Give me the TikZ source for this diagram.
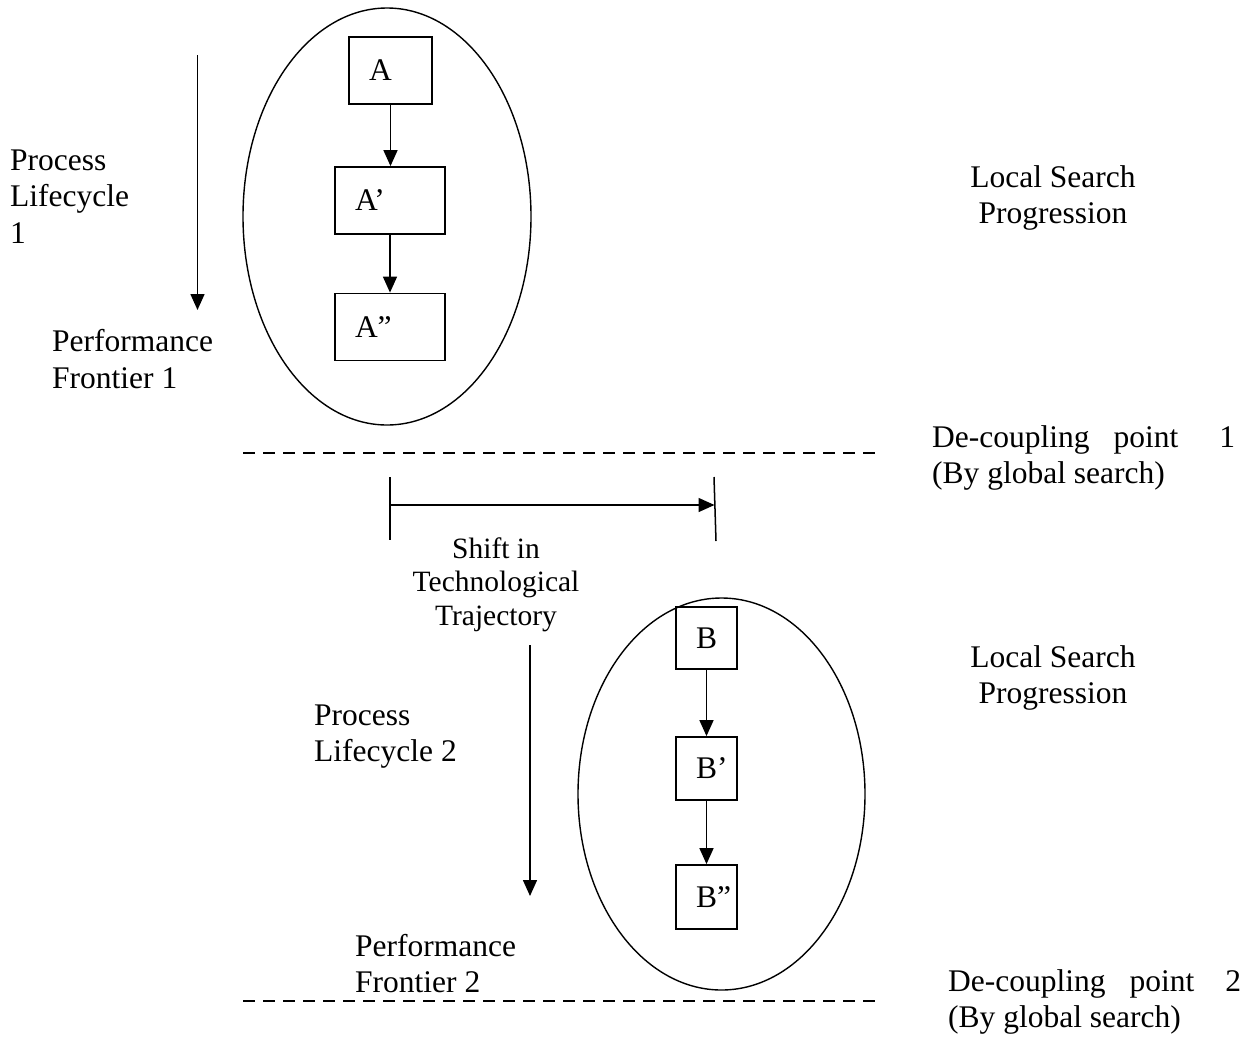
\documentclass[tikz,border=0pt]{standalone}
\usepackage{fontspec}
\setmainfont{Liberation Serif}
\usetikzlibrary{arrows.meta,shapes.geometric}
\newcommand\lblock[1]{\begin{tabular}[t]{@{}l@{}}#1\end{tabular}}
\newcommand\cblock[1]{\begin{tabular}[t]{@{}c@{}}#1\end{tabular}}
\begin{document}
\begin{tikzpicture}[x=1pt,y=-1pt,
  ln/.style={line width=1.5pt},
  arr/.style={ln,-{Triangle[length=16pt,width=14pt]}},
  oval/.style={draw,ellipse,line width=1.4pt,inner sep=0pt},
  bx/.style={draw,line width=1.8pt,inner xsep=20pt,inner ysep=0pt,align=left,font=\fontsize{31.5}{36.5}\selectfont},
  dline/.style={line width=1.6pt,dash pattern=on 12pt off 8pt},
  txt/.style={inner sep=0pt,font=\fontsize{31.5}{36.5}\selectfont},
  stxt/.style={inner sep=0pt,font=\fontsize{29.5}{33.5}\selectfont}]
\useasboundingbox (0,0) rectangle (1245,1061);
\fill[white] (0,0) rectangle (1245,1061);

% ---------- upper part ----------
\node[oval,minimum width=288pt,minimum height=417pt] (E1) at (387,216.5) {};
\node[bx,text width=43pt,minimum height=67pt] (A) at (390.5,70.5) {A};
\node[bx,text width=70pt,minimum height=67pt] (A1) at (390,200.5) {A’};
\node[bx,text width=70pt,minimum height=67pt] (A2) at (390,327) {A”};
\draw[arr] (A.south) -- (A.south |- A1.north);
\draw[arr] (A1.south) -- (A1.south |- A2.north);

\coordinate (p1s) at (197.5,55);
\coordinate (p1e) at (197.5,310);
\draw[arr] (p1s) -- (p1e);

\node[txt,anchor=base west] (pl1) at (10,170) {\lblock{Process\\Lifecycle\\1}};
\node[txt,anchor=base west] (pf1) at (52,351.7) {\lblock{Performance\\Frontier 1}};
\node[txt,anchor=base] (ls1) at (1053,187) {\cblock{Local Search\\Progression}};

\coordinate (d1a) at (243,453);
\coordinate (d1b) at (880,453);
\draw[dline] (d1a) -- (d1b);
\node[txt,anchor=base west] (dc1) at (932,447) {\lblock{De-coupling\hspace{24pt}point\hspace{41pt}1\\(By global search)}};

% ---------- shift ----------
\coordinate (t1a) at (390,477);
\coordinate (t1b) at (390,540);
\coordinate (t2a) at (714,477);
\coordinate (t2b) at (716,541);
\coordinate (s1) at (390,505);
\coordinate (s2) at (714.5,505);
\draw[ln] (t1a) -- (t1b);
\draw[ln] (t2a) -- (t2b);
\draw[arr] (s1) -- (s2);
\node[stxt,anchor=base] (sh) at (496,558) {\cblock{Shift in\\Technological\\Trajectory}};

% ---------- lower part ----------
\coordinate (p2s) at (530,645);
\coordinate (p2e) at (530,896);
\draw[arr] (p2s) -- (p2e);
\node[txt,anchor=base west] (pl2) at (314,725) {\lblock{Process\\Lifecycle 2}};
\node[txt,anchor=base west] (pf2) at (355,956) {\lblock{Performance\\Frontier 2}};

\node[oval,minimum width=287pt,minimum height=392pt] (E2) at (721.5,794) {};
\node[bx,text width=21pt,minimum height=62pt] (B) at (706.5,638) {\rlap{B}};
\node[bx,text width=21pt,minimum height=63pt] (B1) at (706.5,768.5) {\rlap{B’}};
\node[bx,text width=21pt,minimum height=64pt] (B2) at (706.5,897) {\rlap{B”}};
\draw[arr] (B.south) -- (B.south |- B1.north);
\draw[arr] (B1.south) -- (B1.south |- B2.north);

\node[txt,anchor=base] (ls2) at (1053,667) {\cblock{Local Search\\Progression}};

\coordinate (d2a) at (243,1001);
\coordinate (d2b) at (880,1001);
\draw[dline] (d2a) -- (d2b);
\node[txt,anchor=base west] (dc2) at (948,991) {\lblock{De-coupling\hspace{24pt}point\hspace{31pt}2\\(By global search)}};
\end{tikzpicture}
\end{document}
